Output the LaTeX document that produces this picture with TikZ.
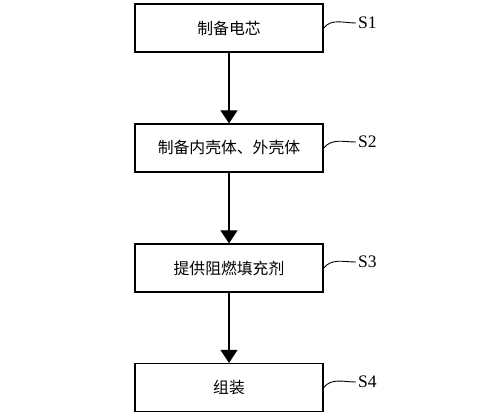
\documentclass[tikz,border=0pt]{standalone}
\usepackage{fontspec}
\setmainfont{Liberation Serif}
\newfontfamily\cjk{Noto Sans CJK SC}
\usetikzlibrary{arrows.meta}

\begin{document}
\begin{tikzpicture}
  \useasboundingbox (0,0) rectangle (10,8.34);
  \tikzset{
    stepbox/.style={draw, line width=0.7pt, minimum width=3.76cm, minimum height=0.96cm,
      font=\cjk\fontsize{9}{11}\selectfont},
    flow/.style={line width=0.6pt, -{Triangle[length=0.26cm,width=0.34cm]}},
    steplabel/.style={anchor=west, inner sep=1pt, font=\fontsize{10}{12}\selectfont}
  }

  % Boxes
  \node[stepbox] (s1) at (4.58,7.78) {制备电芯};
  \node[stepbox] (s2) at (4.58,5.38) {制备内壳体、外壳体};
  \node[stepbox] (s3) at (4.58,2.98) {提供阻燃填充剂};
  \node[stepbox] (s4) at (4.58,0.59) {组装};

  % Arrows
  \draw[flow] (s1) -- (s2);
  \draw[flow] (s2) -- (s3);
  \draw[flow] (s3) -- (s4);

  % Labels
  \node[steplabel] (l1) at (7.12,7.88) {S1};
  \node[steplabel] (l2) at (7.12,5.50) {S2};
  \node[steplabel] (l3) at (7.12,3.10) {S3};
  \node[steplabel] (l4) at (7.12,0.70) {S4};
  \draw[line width=0.5pt] (s1.east) to[out=50,in=180] (l1.west);
  \draw[line width=0.5pt] (s2.east) to[out=50,in=180] (l2.west);
  \draw[line width=0.5pt] (s3.east) to[out=50,in=180] (l3.west);
  \draw[line width=0.5pt] (s4.east) to[out=50,in=180] (l4.west);
\end{tikzpicture}
\end{document}
